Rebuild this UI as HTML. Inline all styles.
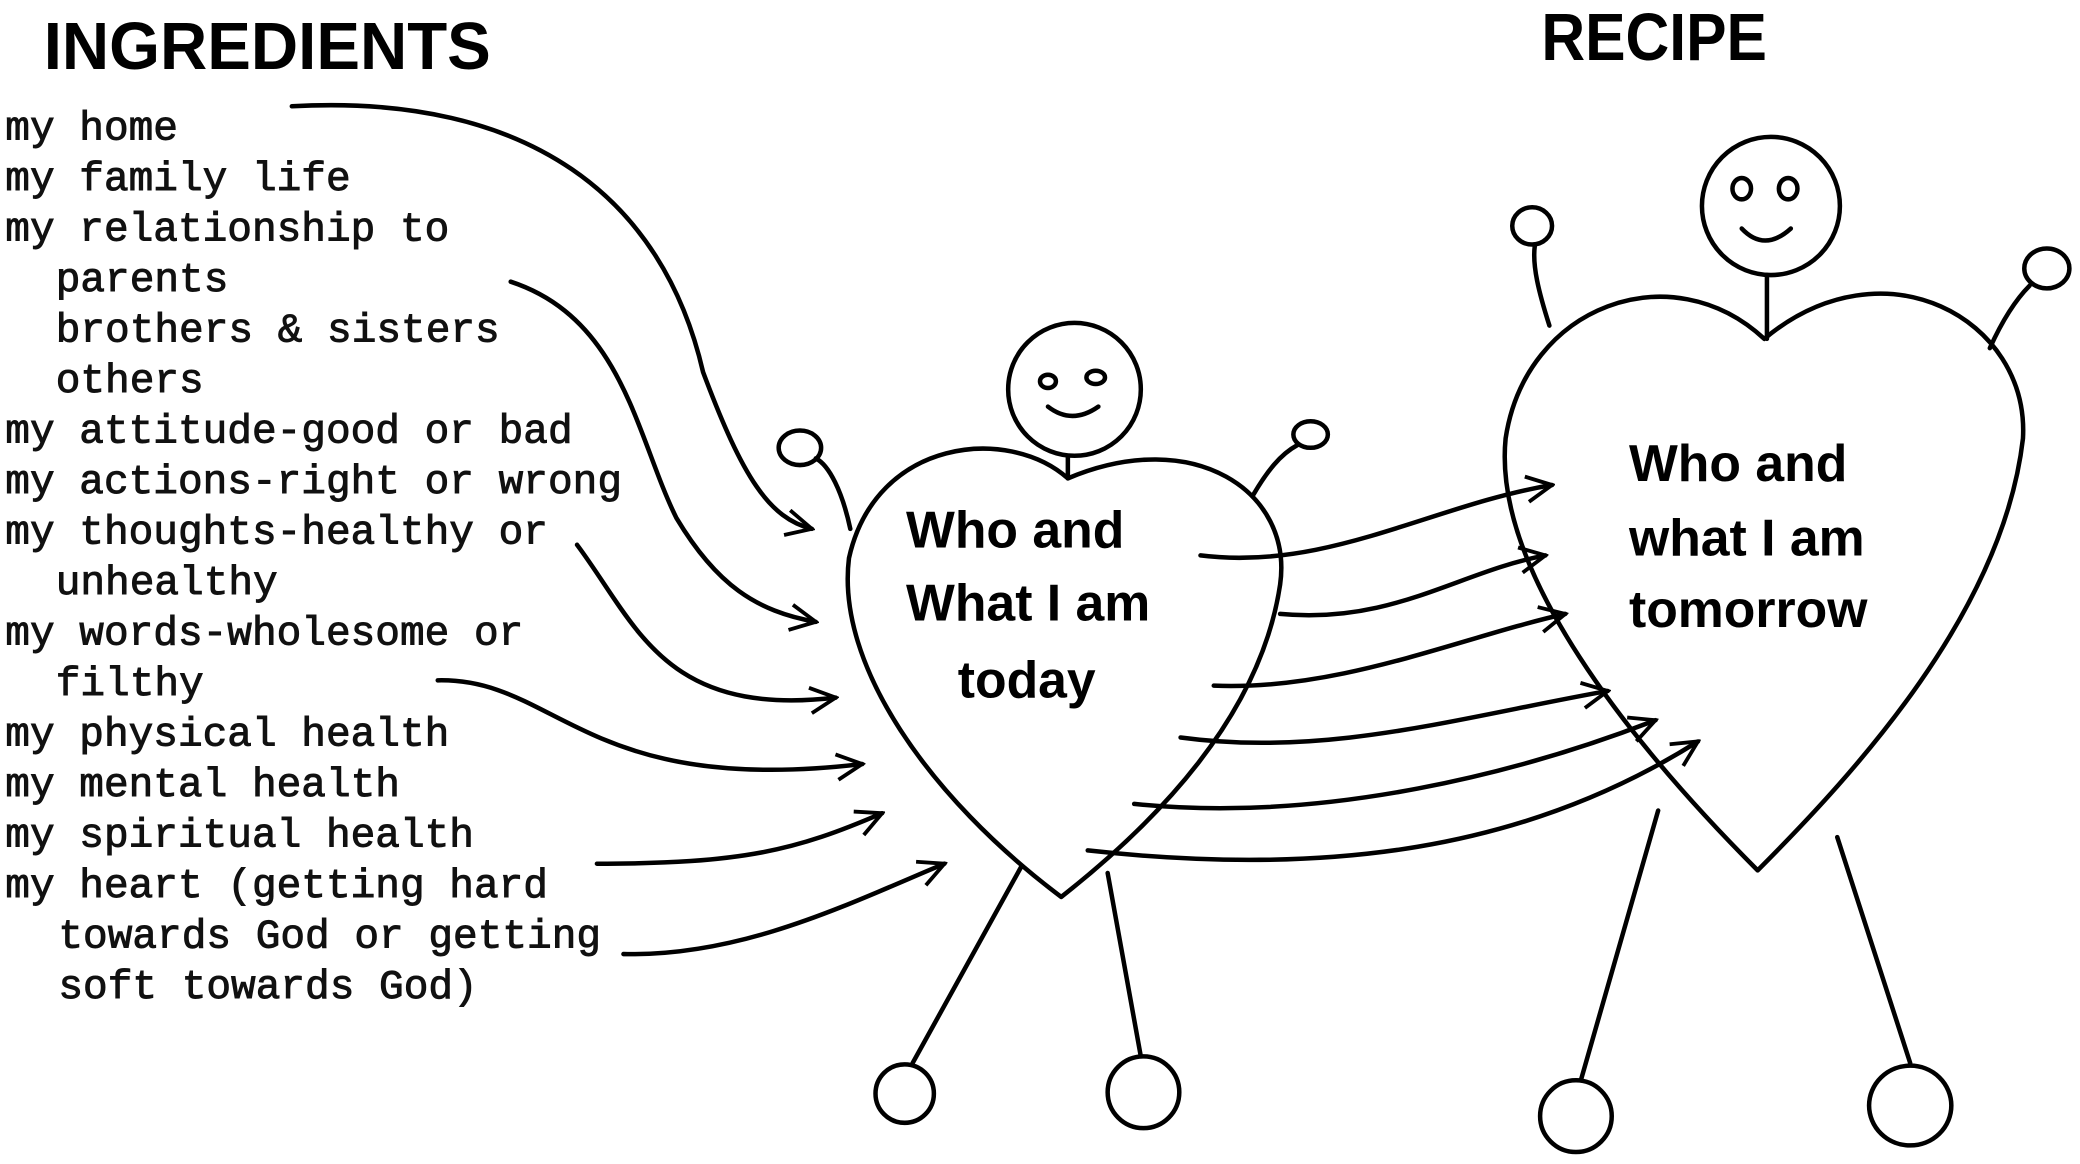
<!DOCTYPE html>
<html><head><meta charset="utf-8"><style>
html,body{margin:0;padding:0;background:#fff;}
svg{display:block;}
.ing{font-family:"Liberation Mono",monospace;font-size:31px;fill:#111;stroke:#111;stroke-width:0.7;}
.h{font-family:"Liberation Sans",sans-serif;font-weight:bold;fill:#000;}
.t{font-family:"Liberation Sans",sans-serif;font-weight:bold;font-size:39px;fill:#000;}
.s{fill:none;stroke:#000;stroke-width:3.4;stroke-linecap:round;stroke-linejoin:round;}
</style></head><body>
<svg width="2080" height="1164" viewBox="0 0 1568 876" preserveAspectRatio="none" xmlns="http://www.w3.org/2000/svg">
<defs>
<marker id="b" viewBox="0 0 20 20" refX="18" refY="10" markerWidth="24" markerHeight="24" markerUnits="userSpaceOnUse" orient="auto">
<path d="M2,2 L18,10 L2,18" fill="none" stroke="#000" stroke-width="2.4"/>
</marker>
</defs>
<text class="h" x="33" y="52" font-size="50" textLength="337" lengthAdjust="spacingAndGlyphs">INGREDIENTS</text>
<text class="h" x="1162" y="45" font-size="50" textLength="170" lengthAdjust="spacingAndGlyphs">RECIPE</text>

<g class="ing">
<text x="4" y="105">my home</text>
<text x="4" y="143">my family life</text>
<text x="4" y="181">my relationship to</text>
<text x="42" y="219">parents</text>
<text x="42" y="257">brothers &amp; sisters</text>
<text x="42" y="295">others</text>
<text x="4" y="333">my attitude-good or bad</text>
<text x="4" y="371">my actions-right or wrong</text>
<text x="4" y="409">my thoughts-healthy or</text>
<text x="42" y="447">unhealthy</text>
<text x="4" y="485">my words-wholesome or</text>
<text x="42" y="523">filthy</text>
<text x="4" y="561">my physical health</text>
<text x="4" y="599">my mental health</text>
<text x="4" y="637">my spiritual health</text>
<text x="4" y="675">my heart (getting hard</text>
<text x="44" y="713">towards God or getting</text>
<text x="44" y="751">soft towards God)</text>
</g>

<!-- left figure -->
<circle class="s" cx="810" cy="293" r="50"/>
<ellipse class="s" cx="790" cy="287" rx="6" ry="5"/>
<ellipse class="s" cx="826" cy="284" rx="7" ry="5"/>
<path class="s" d="M790,306 Q808,320 828,306"/>
<path class="s" d="M805,343 L805,360"/>
<path class="s" d="M805,360 C760,320 660,330 640,420 C630,500 700,600 800,675 C870,620 950,540 965,440 C975,370 900,320 805,360 Z"/>
<path class="s" d="M641,398 C635,370 625,350 615,345"/>
<ellipse class="s" cx="603" cy="337" rx="16" ry="13"/>
<path class="s" d="M945,372 C955,355 965,342 978,335"/>
<ellipse class="s" cx="988" cy="327" rx="13" ry="10"/>
<path class="s" d="M770,652 L688,800"/>
<circle class="s" cx="682" cy="823" r="22"/>
<path class="s" d="M835,657 L860,795"/>
<circle class="s" cx="862" cy="822" r="27"/>
<text class="t" x="683" y="412">Who and</text>
<text class="t" x="683" y="467">What I am</text>
<text class="t" x="722" y="525">today</text>

<!-- right figure -->
<circle class="s" cx="1335" cy="155" r="52"/>
<ellipse class="s" cx="1313" cy="142" rx="7" ry="8"/>
<ellipse class="s" cx="1348" cy="142" rx="7" ry="8"/>
<path class="s" d="M1313,172 Q1330,190 1350,172"/>
<path class="s" d="M1332,207 L1332,255"/>
<path class="s" d="M1330,255 C1260,190 1150,230 1135,330 C1125,430 1230,560 1325,655 C1400,580 1510,460 1525,330 C1530,240 1420,180 1330,255 Z"/>
<path class="s" d="M1168,245 C1160,220 1155,200 1157,185"/>
<ellipse class="s" cx="1155" cy="170" rx="15" ry="14"/>
<path class="s" d="M1500,262 C1510,240 1520,225 1530,215"/>
<ellipse class="s" cx="1543" cy="202" rx="17" ry="15"/>
<path class="s" d="M1250,610 L1192,812"/>
<circle class="s" cx="1188" cy="840" r="27"/>
<path class="s" d="M1385,630 L1440,800"/>
<ellipse class="s" cx="1440" cy="832" rx="31" ry="30"/>
<text class="t" x="1228" y="362">Who and</text>
<text class="t" x="1228" y="418">what I am</text>
<text class="t" x="1228" y="472">tomorrow</text>

<g class="s" marker-end="url(#b)">
<path d="M220,80 C400,70 500,150 530,280 C560,360 580,390 612,398"/>
<path d="M385,212 C470,240 480,330 510,390 C540,440 570,460 615,468"/>
<path d="M435,410 C480,470 500,540 630,525"/>
<path d="M330,512 C420,510 440,600 650,575"/>
<path d="M450,650 C560,650 600,640 665,612"/>
<path d="M470,718 C560,720 640,680 712,650"/>
<path d="M905,418 C1000,430 1080,380 1170,365"/>
<path d="M965,462 C1050,470 1100,430 1165,418"/>
<path d="M915,516 C1010,520 1100,480 1180,462"/>
<path d="M890,555 C1000,570 1100,540 1212,520"/>
<path d="M855,605 C1000,620 1150,580 1248,542"/>
<path d="M820,640 C1000,660 1150,640 1280,558"/>
</g>
</svg>
</body></html>
